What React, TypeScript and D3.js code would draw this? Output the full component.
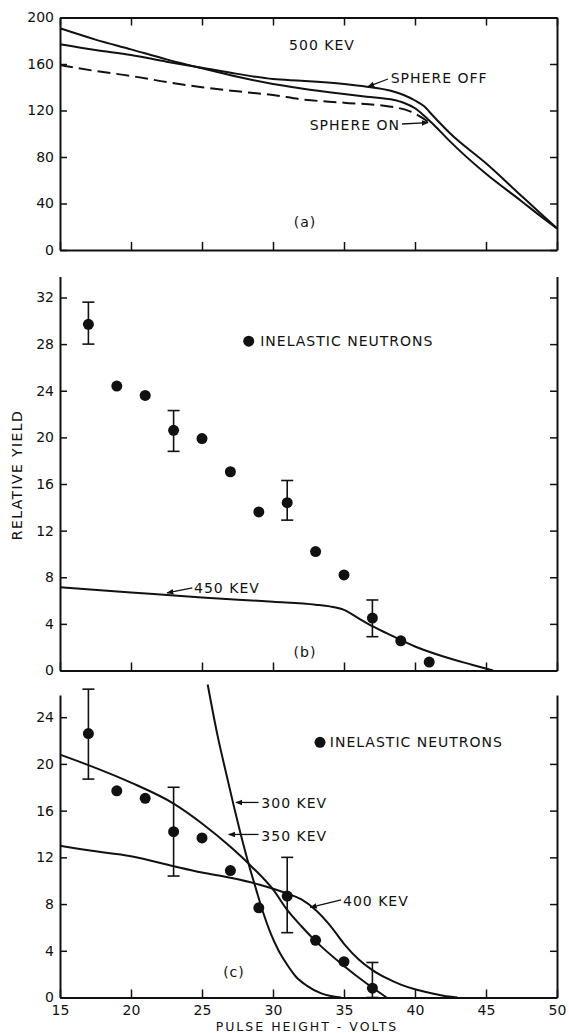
import { useEffect, useRef } from "react";
import * as d3 from "d3";

// x axis (shared): pulse height in volts
const xTicks = [15, 20, 25, 30, 35, 40, 45, 50];

// panel (a): 500 keV, sphere on / sphere off
const voltsA = [15, 17.5, 20, 22.5, 25, 27.5, 30, 32, 35, 36.6, 38.3, 39.2, 40, 40.6, 41.3, 42.5, 45, 47.5, 48.75, 50];
const sphereOn = [190.7, 181, 172.6, 164, 156.3, 149, 142.8, 139, 134.2, 131.9, 129.6, 126.7, 121.9, 116, 108, 93, 65.5, 42, 30, 18.6];
const sphereOff = [177, 172, 167.7, 162, 156.8, 151.5, 147, 145.6, 142.8, 140.5, 137, 133.3, 128.6, 124, 115, 100, 74.6, 46.5, 32.5, 18.6];
const voltsDashed = [15, 17.5, 20, 22.5, 25, 27.5, 30, 32, 35, 38.3, 39.7, 40.6, 41.1];
const sphereOnDashed = [159, 154, 149.7, 144.5, 140, 136.5, 133.3, 129.6, 126.7, 123.3, 119, 113, 108.5];
const yTicksA = [0, 40, 80, 120, 160, 200];

// panel (b): inelastic neutrons + 450 keV curve
const voltsB = [17, 19, 21, 23, 25, 27, 29, 31, 33, 35, 37, 39, 41];
const inelasticB = [29.7, 24.4, 23.6, 20.6, 19.9, 17.05, 13.6, 14.4, 10.2, 8.2, 4.5, 2.55, 0.72];
const errVoltsB = [17, 23, 31, 37];
const errLowB = [28.0, 18.8, 12.9, 2.9];
const errHighB = [31.6, 22.3, 16.3, 6.05];
const volts450 = [15, 20, 25, 30, 33, 34, 35, 36, 37, 38, 40, 42, 44, 45.5];
const kev450 = [7.15, 6.7, 6.26, 5.9, 5.65, 5.5, 5.2, 4.5, 3.8, 3.2, 2.06, 1.2, 0.5, 0];
const yTicksB = [0, 4, 8, 12, 16, 20, 24, 28, 32];

// panel (c): inelastic neutrons + 300 / 350 / 400 keV curves
const voltsC = [17, 19, 21, 23, 25, 27, 29, 31, 33, 35, 37];
const inelasticC = [22.6, 17.7, 17.05, 14.2, 13.66, 10.87, 7.68, 8.68, 4.9, 3.07, 0.8];
const errVoltsC = [17, 23, 31, 37];
const errLowC = [18.7, 10.4, 5.55, 0];
const errHighC = [26.4, 18.0, 12.0, 3.0];
const volts300 = [25.4, 26.1, 26.7, 27.2, 27.7, 28.2, 28.8, 29.3, 29.8, 30.4, 31.0, 31.6, 32.4, 33.4, 34.8];
const kev300 = [26.8, 22.4, 19.2, 16.6, 14.1, 11.8, 9.3, 7.3, 5.6, 4.0, 2.8, 1.8, 1.0, 0.35, 0];
const volts350 = [15, 17, 20, 23, 25, 27, 28.5, 30, 31, 32, 33, 35, 36.5, 38];
const kev350 = [20.8, 19.9, 18.4, 16.6, 14.9, 12.9, 11.2, 9.25, 7.5, 6.1, 4.83, 2.7, 1.28, 0];
const volts400 = [15, 17, 20, 23, 25, 27, 29, 31, 32, 33, 34, 35, 36, 37, 38, 39, 40, 41, 42, 43];
const kev400 = [13.0, 12.6, 12.1, 11.24, 10.7, 10.25, 9.68, 8.9, 8.4, 7.5, 6.2, 4.6, 3.3, 2.35, 1.65, 1.1, 0.7, 0.4, 0.15, 0];
const yTicksC = [0, 4, 8, 12, 16, 20, 24];

const FONT = "'DejaVu Sans', sans-serif";
const INK = "#111";

const App = () => {
    const svgRef = useRef<SVGSVGElement>(null);

    useEffect(() => {
        const svg = d3.select(svgRef.current);
        svg.selectAll("*").remove();

        const x = d3.scaleLinear().domain([15, 50]).range([60, 557]);
        const yA = d3.scaleLinear().domain([0, 200]).range([250, 17.5]);
        const yB = d3.scaleLinear().domain([0, 33.8]).range([670.5, 276.5]);
        const yC = d3.scaleLinear().domain([0, 25.9]).range([997.5, 695]);

        svg.append("defs")
            .append("marker")
            .attr("id", "arrowhead")
            .attr("viewBox", "0 0 10 10")
            .attr("refX", 9)
            .attr("refY", 5)
            .attr("markerWidth", 7)
            .attr("markerHeight", 7)
            .attr("markerUnits", "userSpaceOnUse")
            .attr("orient", "auto")
            .append("path")
            .attr("d", "M0,1 L10,5 L0,9 Z")
            .attr("fill", INK);

        const styleAxis = (g: any) => {
            g.select(".domain").attr("stroke", INK).attr("stroke-width", 2);
            g.selectAll(".tick line").attr("stroke", INK).attr("stroke-width", 1.5);
            g.selectAll("text")
                .attr("font-family", FONT)
                .attr("font-size", 14)
                .attr("fill", INK);
        };

        const drawAxes = (y: any, ticks: number[], topBorder: boolean, xLabels: boolean) => {
            const [y0, y1] = y.range();
            svg.append("g")
                .attr("transform", "translate(60,0)")
                .call(d3.axisLeft(y).tickValues(ticks).tickSizeInner(-7).tickSizeOuter(0).tickPadding(6))
                .call(styleAxis);
            svg.append("g")
                .attr("transform", "translate(557,0)")
                .call(d3.axisRight(y).tickValues(ticks).tickSizeInner(-7).tickSizeOuter(0).tickFormat(() => ""))
                .call(styleAxis);
            svg.append("g")
                .attr("transform", `translate(0,${y0})`)
                .call(d3.axisBottom(x).tickValues(xTicks).tickSizeInner(-8).tickSizeOuter(0).tickPadding(8)
                    .tickFormat((d: any) => (xLabels ? String(d) : "")))
                .call(styleAxis);
            if (topBorder) {
                svg.append("g")
                    .attr("transform", `translate(0,${y1})`)
                    .call(d3.axisTop(x).tickValues(xTicks).tickSizeInner(-8).tickSizeOuter(0).tickFormat(() => ""))
                    .call(styleAxis);
            }
        };

        const curve = (y: any, xs: number[], ys: number[], dash?: string) => {
            const line = d3.line<[number, number]>()
                .x(d => x(d[0]))
                .y(d => y(d[1]))
                .curve(d3.curveMonotoneX);
            svg.append("path")
                .datum(d3.zip(xs, ys) as [number, number][])
                .attr("fill", "none")
                .attr("stroke", INK)
                .attr("stroke-width", 2)
                .attr("stroke-dasharray", dash || null)
                .attr("d", line);
        };

        const dots = (y: any, xs: number[], ys: number[]) => {
            svg.append("g")
                .selectAll("circle")
                .data(d3.zip(xs, ys))
                .join("circle")
                .attr("cx", d => x(d[0]))
                .attr("cy", d => y(d[1]))
                .attr("r", 5.5)
                .attr("fill", INK);
        };

        const errorBars = (y: any, xs: number[], lo: number[], hi: number[]) => {
            const g = svg.append("g").attr("stroke", INK).attr("stroke-width", 1.6);
            xs.forEach((v, i) => {
                g.append("line").attr("x1", x(v)).attr("x2", x(v)).attr("y1", y(lo[i])).attr("y2", y(hi[i]));
                g.append("line").attr("x1", x(v) - 6).attr("x2", x(v) + 6).attr("y1", y(lo[i])).attr("y2", y(lo[i]));
                g.append("line").attr("x1", x(v) - 6).attr("x2", x(v) + 6).attr("y1", y(hi[i])).attr("y2", y(hi[i]));
            });
        };

        const label = (y: any, vx: number, vy: number, text: string, anchor = "start") => {
            svg.append("text")
                .attr("x", x(vx))
                .attr("y", y(vy))
                .attr("dy", "0.36em")
                .attr("text-anchor", anchor)
                .attr("font-family", FONT)
                .attr("font-size", 14)
                .attr("letter-spacing", 1)
                .attr("fill", INK)
                .text(text);
        };

        const arrow = (y: any, fx: number, fy: number, tx: number, ty: number) => {
            svg.append("line")
                .attr("x1", x(fx)).attr("y1", y(fy))
                .attr("x2", x(tx)).attr("y2", y(ty))
                .attr("stroke", INK)
                .attr("stroke-width", 1.3)
                .attr("marker-end", "url(#arrowhead)");
        };

        // (a)
        drawAxes(yA, yTicksA, true, false);
        curve(yA, voltsA, sphereOn);
        curve(yA, voltsA, sphereOff);
        curve(yA, voltsDashed, sphereOnDashed, "13,6");
        label(yA, 33.45, 176.3, "500 KEV", "middle");
        label(yA, 38.29, 147.7, "SPHERE OFF");
        arrow(yA, 38.1, 147.1, 36.69, 140.6);
        label(yA, 38.94, 107.5, "SPHERE ON", "end");
        arrow(yA, 39.08, 108.4, 40.92, 109.6);
        label(yA, 32.25, 24.5, "(a)", "middle");

        // (b)
        drawAxes(yB, yTicksB, false, false);
        curve(yB, volts450, kev450);
        errorBars(yB, errVoltsB, errLowB, errHighB);
        dots(yB, voltsB, inelasticB);
        dots(yB, [28.29], [28.25]);
        label(yB, 29.1, 28.25, "INELASTIC NEUTRONS");
        label(yB, 24.44, 7.08, "450 KEV");
        arrow(yB, 24.32, 7.08, 22.54, 6.65);
        label(yB, 32.25, 1.56, "(b)", "middle");

        // (c)
        drawAxes(yC, yTicksC, false, true);
        curve(yC, volts300, kev300);
        curve(yC, volts350, kev350);
        curve(yC, volts400, kev400);
        errorBars(yC, errVoltsC, errLowC, errHighC);
        dots(yC, voltsC, inelasticC);
        dots(yC, [33.31], [21.85]);
        label(yC, 34.0, 21.85, "INELASTIC NEUTRONS");
        label(yC, 29.18, 16.63, "300 KEV");
        arrow(yC, 28.98, 16.7, 27.39, 16.7);
        label(yC, 29.18, 13.85, "350 KEV");
        arrow(yC, 28.98, 13.96, 26.88, 13.96);
        label(yC, 34.93, 8.26, "400 KEV");
        arrow(yC, 34.8, 8.35, 32.63, 7.72);
        label(yC, 27.25, 2.16, "(c)", "middle");

        // axis titles
        svg.append("text")
            .attr("transform", "translate(16.5,475) rotate(-90)")
            .attr("dy", "0.36em")
            .attr("text-anchor", "middle")
            .attr("font-family", FONT)
            .attr("font-size", 14)
            .attr("letter-spacing", 1.4)
            .attr("fill", INK)
            .text("RELATIVE YIELD");
        svg.append("text")
            .attr("x", 307)
            .attr("y", 1026.3)
            .attr("dy", "0.36em")
            .attr("text-anchor", "middle")
            .attr("font-family", FONT)
            .attr("font-size", 12.5)
            .attr("letter-spacing", 2)
            .attr("fill", INK)
            .text("PULSE HEIGHT - VOLTS");
    }, []);

    return (
        <svg
            ref={svgRef}
            width={569}
            height={1033}
            style={{ position: "absolute", left: 0, top: 0, background: "#fff" }}
        />
    );
};

export default App;
